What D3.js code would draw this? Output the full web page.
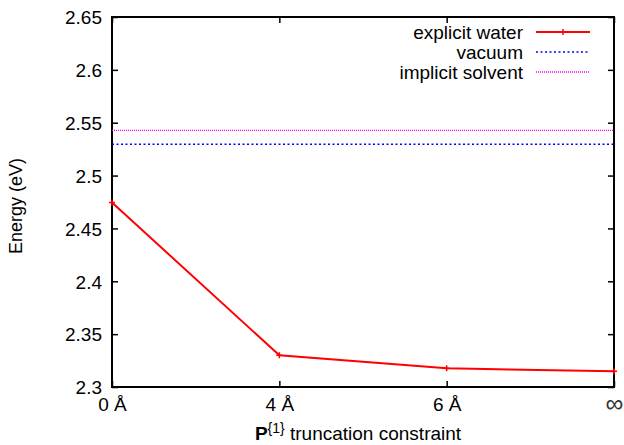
<!DOCTYPE html>
<html><head><meta charset="utf-8">
<script src="https://cdn.jsdelivr.net/npm/d3@7"></script>
<style>body{margin:0;background:#fff}svg{display:block}text{font-family:"Liberation Sans",Arial,Helvetica,sans-serif}</style>
</head><body>
<script>
const categories = ["0 Å","4 Å","6 Å","∞"];
const explicitWater = [2.4745, 2.3300, 2.3177, 2.3148];
const vacuum = 2.5296;
const implicitSolvent = 2.5428;
const yTicks = [2.3,2.35,2.4,2.45,2.5,2.55,2.6,2.65];
const legendLabels = ["explicit water","vacuum","implicit solvent"];

const W=624,H=445, m={l:112,r:10,t:17,b:58};
const fs=19;
const svg=d3.select("body").append("svg").attr("width",W).attr("height",H);
const x=d3.scalePoint().domain(categories).range([m.l,W-m.r]);
const y=d3.scaleLinear().domain([2.3,2.65]).range([H-m.b,m.t]);
const x0=m.l,x1=W-m.r,y0=H-m.b,y1=m.t;

// axes
const ax=svg.append("g").attr("transform",`translate(0,${y0})`).call(d3.axisBottom(x).tickSize(-6).tickPadding(14));
const ay=svg.append("g").attr("transform",`translate(${x0},0)`).call(d3.axisLeft(y).tickValues(yTicks).tickFormat(d3.format("")).tickSize(-6).tickPadding(10));
const at=svg.append("g").attr("transform",`translate(0,${y1})`).call(d3.axisTop(x).tickSize(-6).tickFormat(""));
const ar=svg.append("g").attr("transform",`translate(${x1},0)`).call(d3.axisRight(y).tickValues(yTicks).tickSize(-6).tickFormat(""));
[ax,ay,at,ar].forEach(g=>{g.select(".domain").remove();g.selectAll("line").attr("stroke","#000").attr("stroke-width",1.5);g.selectAll("text").attr("font-size",fs).attr("fill","#000").attr("font-family",'"Liberation Sans",Arial,sans-serif');});
ay.selectAll("text").attr("dy","0.36em");
ax.selectAll("text").attr("dy","0.5em");
ax.selectAll("text").filter(d=>d==="∞").attr("font-size",25).attr("dy","0.42em").attr("fill","#333");
svg.append("rect").attr("x",x0).attr("y",y1).attr("width",x1-x0).attr("height",y0-y1).attr("fill","none").attr("stroke","#000").attr("stroke-width",2);

// horizontal lines
svg.append("line").attr("x1",x0).attr("x2",x1).attr("y1",y(implicitSolvent)).attr("y2",y(implicitSolvent)).attr("stroke","#ff00ff").attr("stroke-width",1.3).attr("stroke-dasharray","1,1");
svg.append("line").attr("x1",x0).attr("x2",x1).attr("y1",y(vacuum)).attr("y2",y(vacuum)).attr("stroke","#0000ff").attr("stroke-width",1.5).attr("stroke-dasharray","2,2.5");

// explicit water
const pts=categories.map((c,i)=>[x(c),y(explicitWater[i])]);
svg.append("path").attr("d",d3.line()(pts)).attr("fill","none").attr("stroke","#ff0000").attr("stroke-width",2);
svg.selectAll(".mk").data(pts).enter().append("path").attr("d",d=>`M${d[0]-3},${d[1]}h6M${d[0]},${d[1]-3}v6`).attr("stroke","#ff0000").attr("stroke-width",1.5);

// legend
const lg=svg.append("g");
const styles=[{c:"#ff0000",w:2,da:null},{c:"#0000ff",w:1.5,da:"2,2.5"},{c:"#ff00ff",w:1.3,da:"1,1"}];
legendLabels.forEach((t,i)=>{
  const yy=32+i*20;
  lg.append("text").attr("x",523).attr("y",yy).attr("dy","0.36em").attr("text-anchor","end").attr("font-size",fs).text(t);
  lg.append("line").attr("x1",536).attr("x2",590).attr("y1",yy).attr("y2",yy).attr("stroke",styles[i].c).attr("stroke-width",styles[i].w).attr("stroke-dasharray",styles[i].da);
  if(i===0) lg.append("path").attr("d",`M563,${yy-3}v6`).attr("stroke","#ff0000").attr("stroke-width",1.5);
});

// axis titles
svg.append("text").attr("transform",`translate(22,${(y0+y1)/2+4}) rotate(-90)`).attr("text-anchor","middle").attr("font-size",fs-1).text("Energy (eV)");
const xt=svg.append("text").attr("x",(x0+x1)/2-5).attr("y",440).attr("text-anchor","middle").attr("font-size",fs);
xt.append("tspan").attr("font-weight","bold").text("P");
xt.append("tspan").attr("dy",-7).attr("font-size",14).text("{1}");
xt.append("tspan").attr("dy",7).text(" truncation constraint");
</script>
</body></html>
